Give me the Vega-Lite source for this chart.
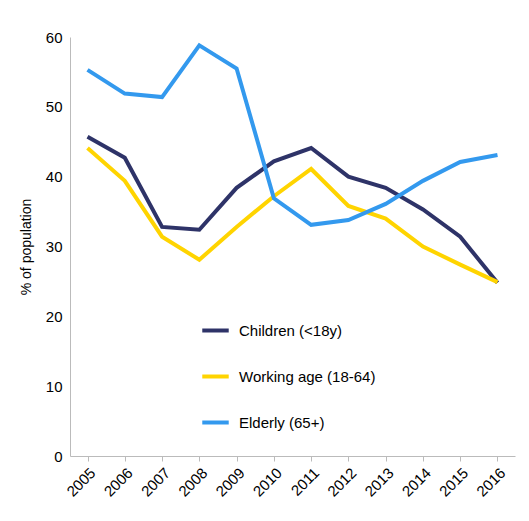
{
  "$schema": "https://vega.github.io/schema/vega-lite/v6.json",
  "width": 445,
  "height": 419,
  "autosize": "none",
  "padding": {"left": 70, "top": 37, "right": 14, "bottom": 65},
  "config": {"view": {"stroke": null}, "font": "Liberation Sans"},
  "data": {"values": [
    {"year": "2005", "group": "Children (<18y)", "v": 45.7},
    {"year": "2006", "group": "Children (<18y)", "v": 42.7},
    {"year": "2007", "group": "Children (<18y)", "v": 32.8},
    {"year": "2008", "group": "Children (<18y)", "v": 32.4},
    {"year": "2009", "group": "Children (<18y)", "v": 38.4},
    {"year": "2010", "group": "Children (<18y)", "v": 42.2},
    {"year": "2011", "group": "Children (<18y)", "v": 44.1},
    {"year": "2012", "group": "Children (<18y)", "v": 40.0},
    {"year": "2013", "group": "Children (<18y)", "v": 38.4},
    {"year": "2014", "group": "Children (<18y)", "v": 35.3},
    {"year": "2015", "group": "Children (<18y)", "v": 31.4},
    {"year": "2016", "group": "Children (<18y)", "v": 24.8},
    {"year": "2005", "group": "Working age (18-64)", "v": 44.1},
    {"year": "2006", "group": "Working age (18-64)", "v": 39.4},
    {"year": "2007", "group": "Working age (18-64)", "v": 31.4},
    {"year": "2008", "group": "Working age (18-64)", "v": 28.1},
    {"year": "2009", "group": "Working age (18-64)", "v": 32.8},
    {"year": "2010", "group": "Working age (18-64)", "v": 37.2},
    {"year": "2011", "group": "Working age (18-64)", "v": 41.1},
    {"year": "2012", "group": "Working age (18-64)", "v": 35.8},
    {"year": "2013", "group": "Working age (18-64)", "v": 34.0},
    {"year": "2014", "group": "Working age (18-64)", "v": 30.0},
    {"year": "2015", "group": "Working age (18-64)", "v": 27.4},
    {"year": "2016", "group": "Working age (18-64)", "v": 24.9},
    {"year": "2005", "group": "Elderly (65+)", "v": 55.3},
    {"year": "2006", "group": "Elderly (65+)", "v": 51.9},
    {"year": "2007", "group": "Elderly (65+)", "v": 51.4},
    {"year": "2008", "group": "Elderly (65+)", "v": 58.8},
    {"year": "2009", "group": "Elderly (65+)", "v": 55.5},
    {"year": "2010", "group": "Elderly (65+)", "v": 36.9},
    {"year": "2011", "group": "Elderly (65+)", "v": 33.1},
    {"year": "2012", "group": "Elderly (65+)", "v": 33.8},
    {"year": "2013", "group": "Elderly (65+)", "v": 36.1},
    {"year": "2014", "group": "Elderly (65+)", "v": 39.4},
    {"year": "2015", "group": "Elderly (65+)", "v": 42.1},
    {"year": "2016", "group": "Elderly (65+)", "v": 43.1}
  ]},
  "mark": {"type": "line", "strokeWidth": 4},
  "encoding": {
    "x": {"field": "year", "type": "ordinal", "scale": {"type": "point", "padding": 0.47},
      "axis": {"title": null, "labelAngle": -45, "labelAlign": "right", "labelFontSize": 15, "labelColor": "#000", "domainColor": "#bbb", "tickColor": "#bbb", "tickSize": 5, "labelPadding": 4}},
    "y": {"field": "v", "type": "quantitative", "scale": {"domain": [0, 60]},
      "axis": {"title": "% of population", "titleFontSize": 14, "titleFontWeight": "normal", "titleColor": "#000", "labelFontSize": 15, "labelColor": "#000", "grid": false, "domainColor": "#bbb", "ticks": false, "tickCount": 6, "labelPadding": 8, "titlePadding": 12}},
    "color": {"field": "group", "type": "nominal", "sort": ["Children (<18y)", "Working age (18-64)", "Elderly (65+)"],
      "scale": {"domain": ["Children (<18y)", "Working age (18-64)", "Elderly (65+)"], "range": ["#2e3368", "#ffd400", "#3399ee"]},
      "legend": {"title": null, "orient": "none", "legendX": 130, "legendY": 278, "symbolType": "stroke", "symbolStrokeWidth": 4, "symbolSize": 700, "labelFontSize": 15, "labelColor": "#000", "rowPadding": 22, "labelOffset": 8}}
  }
}
